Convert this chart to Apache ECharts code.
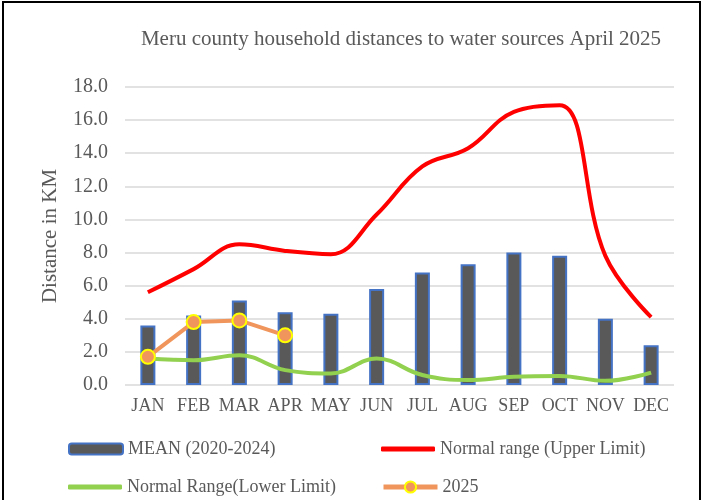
<!DOCTYPE html>
<html>
<head>
<meta charset="utf-8">
<script src="https://cdn.jsdelivr.net/npm/echarts@6/dist/echarts.min.js"></script>
<style>
  body { margin: 0; background: #fff; }
  #chart { position: absolute; left: 0; top: 0; width: 704px; height: 500px; }
  #frame { position: absolute; left: 2px; top: 1px; width: 695px; height: 520px; border: 2px solid #000; pointer-events: none; }
</style>
</head>
<body>
<div id="chart"></div>
<div id="frame"></div>
<script>
  // data
  var months = ['JAN','FEB','MAR','APR','MAY','JUN','JUL','AUG','SEP','OCT','NOV','DEC'];
  var meanValues = [3.6, 4.2, 5.1, 4.4, 4.3, 5.8, 6.8, 7.3, 8.0, 7.8, 4.0, 2.4];
  var upperLimit = [5.6, 7.0, 8.5, 8.1, 7.9, 10.3, 13.2, 14.3, 16.5, 16.9, 7.8, 4.1];
  var lowerLimit = [1.6, 1.5, 1.8, 0.9, 0.7, 1.6, 0.6, 0.3, 0.5, 0.55, 0.25, 0.75];
  var year2025 = [1.7, 3.8, 3.9, 3.0];

  var font = 'Liberation Serif';
  var grey = '#595959';

  var chart = echarts.init(document.getElementById('chart'));

  function legendAt(item, left, top, h) {
    return {
      data: [item], left: left, top: top,
      itemWidth: 54, itemHeight: h, itemGap: 5,
      lineStyle: { width: 5 },
      textStyle: { fontFamily: font, fontSize: 18, color: grey }
    };
  }

  var option = {
    animation: false,
    title: {
      text: 'Meru county household distances to water sources April 2025',
      left: 396, top: 24, textAlign: 'center',
      textStyle: { fontFamily: font, fontSize: 21, fontWeight: 'normal', color: grey }
    },
    legend: [
      legendAt('MEAN (2020-2024)', 63, 435, 11),
      legendAt({ name: 'Normal range (Upper Limit)', icon: 'roundRect' }, 376, 435, 5),
      legendAt({ name: 'Normal Range(Lower Limit)', icon: 'roundRect' }, 63, 473, 5),
      legendAt('2025', 376, 473, 14)
    ],
    grid: { left: 125, right: 30, top: 87, bottom: 115 },
    xAxis: {
      type: 'category',
      data: months,
      axisLine: { show: false },
      axisTick: { show: false },
      axisLabel: { interval: 0, fontFamily: font, fontSize: 18, color: grey, margin: 12 }
    },
    yAxis: {
      type: 'value',
      min: 0, max: 18, interval: 2,
      name: 'Distance in KM',
      nameLocation: 'middle',
      nameGap: 64,
      nameTextStyle: { fontFamily: font, fontSize: 21, color: grey },
      axisLine: { show: false },
      axisTick: { show: false },
      axisLabel: {
        fontFamily: font, fontSize: 20, color: grey, margin: 17,
        formatter: function (v) { return v.toFixed(1); }
      },
      splitLine: { lineStyle: { color: '#d9d9d9', width: 1.5 } }
    },
    series: [
      {
        name: 'MEAN (2020-2024)',
        type: 'bar',
        data: meanValues,
        barWidth: 15,
        itemStyle: { color: '#595959', borderColor: '#4472c4', borderWidth: 2 }
      },
      {
        name: 'Normal range (Upper Limit)',
        type: 'line',
        data: upperLimit,
        smooth: 0.4,
        symbol: 'none',
        itemStyle: { color: '#ff0000' },
        lineStyle: { color: '#ff0000', width: 4 }
      },
      {
        name: 'Normal Range(Lower Limit)',
        type: 'line',
        data: lowerLimit,
        smooth: 0.4,
        symbol: 'none',
        itemStyle: { color: '#92d050' },
        lineStyle: { color: '#92d050', width: 4 }
      },
      {
        name: '2025',
        type: 'line',
        data: year2025,
        symbol: 'circle',
        symbolSize: 14,
        itemStyle: { color: '#f0965c', borderColor: '#ffff00', borderWidth: 2 },
        lineStyle: { color: '#f0965c', width: 4 },
        z: 5
      }
    ]
  };

  chart.setOption(option);
  window.addEventListener('resize', function () { chart.resize(); });
</script>
</body>
</html>
